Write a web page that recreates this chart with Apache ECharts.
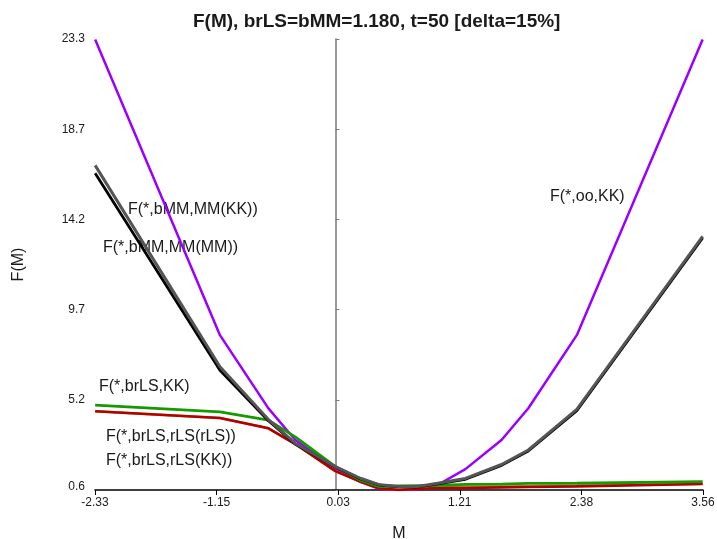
<!DOCTYPE html>
<html>
<head>
<meta charset="utf-8">
<script src="https://cdn.jsdelivr.net/npm/echarts@6/dist/echarts.min.js"></script>
<style>
html,body{margin:0;padding:0;background:#fff;}
#c{width:717px;height:539px;}
</style>
</head>
<body>
<div id="c"></div>
<script>
// ---- data ----
const M = [-2.33, -1.12, -0.65, -0.39, 0.00, 0.24, 0.43, 0.62, 0.80, 0.99, 1.26, 1.61, 1.87, 2.34, 3.56];
const F_OO_KK        = [23.27, 8.42, 4.74, 3.15, 1.72, 1.05, 0.69, 0.64, 0.66, 0.89, 1.69, 3.15, 4.75, 8.42, 23.27];
const F_BMM_MM_KK    = [16.95, 6.83, 4.18, 2.98, 1.81, 1.23, 0.90, 0.82, 0.82, 0.98, 1.22, 1.92, 2.65, 4.69, 13.38];
const F_BMM_MM_MM    = [16.56, 6.66, 4.12, 2.95, 1.80, 1.21, 0.88, 0.80, 0.80, 0.95, 1.18, 1.88, 2.60, 4.62, 13.30];
const F_BRLS_KK      = [4.90, 4.57, 4.15, 3.31, 1.81, 1.14, 0.81, 0.84, 0.86, 0.87, 0.92, 0.94, 0.97, 0.98, 1.06];
const F_BRLS_RLS_RLS = [4.60, 4.26, 3.74, 2.95, 1.59, 1.06, 0.72, 0.64, 0.69, 0.74, 0.74, 0.77, 0.79, 0.82, 0.94];
const F_BRLS_RLS_KK  = [4.60, 4.26, 3.74, 2.95, 1.59, 1.06, 0.72, 0.64, 0.70, 0.77, 0.80, 0.82, 0.83, 0.85, 0.96];

const X_TICK_LABELS = ['-2.33', '-1.15', '0.03', '1.21', '2.38', '3.56'];
const Y_TICK_LABELS = ['0.6', '5.2', '9.7', '14.2', '18.7', '23.3'];
const X_MIN = -2.3315, X_MAX = 3.5635;
const Y_MIN = 0.64, Y_MAX = 23.30;

const TITLE = 'F(M), brLS=bMM=1.180, t=50 [delta=15%]';
const NAMES = {
  ooKK: 'F(*,oo,KK)',
  mmKK: 'F(*,bMM,MM(KK))',
  mmMM: 'F(*,bMM,MM(MM))',
  brKK: 'F(*,brLS,KK)',
  rlsRls: 'F(*,brLS,rLS(rLS))',
  rlsKK: 'F(*,brLS,rLS(KK))'
};

// ---- build ----
const xTicks = X_TICK_LABELS.map((_, i) => X_MIN + i * (X_MAX - X_MIN) / 5);
const yTicks = Y_TICK_LABELS.map((_, i) => Y_MIN + i * (Y_MAX - Y_MIN) / 5);
function nearestIndex(ticks, v) {
  let best = 0, d = Infinity;
  ticks.forEach((t, i) => { const dd = Math.abs(t - v); if (dd < d) { d = dd; best = i; } });
  return best;
}
const zip = ys => M.map((x, i) => [x, ys[i]]);
function line(name, ys, color, width) {
  return {
    name, type: 'line', data: zip(ys), yAxisIndex: 0, xAxisIndex: 0,
    showSymbol: false, symbol: 'none', smooth: false,
    lineStyle: { color, width }, itemStyle: { color },
    emphasis: { disabled: true }, z: 2
  };
}
const FONT = '"Liberation Sans", Arial, Helvetica, sans-serif';

const chart = echarts.init(document.getElementById('c'), null, { renderer: 'canvas' });
chart.setOption({
  animation: false,
  backgroundColor: '#ffffff',
  textStyle: { fontFamily: FONT },
  title: {
    text: TITLE, left: 188, top: 7,
    textStyle: { fontSize: 19, fontWeight: 'bold', color: '#1a1a1a', fontFamily: FONT }
  },
  grid: { left: 95, right: 14, top: 39, bottom: 49, containLabel: false, outerBoundsMode: 'none' },
  xAxis: {
    type: 'value', min: X_MIN, max: X_MAX,
    name: 'M', nameLocation: 'middle', nameGap: 36,
    nameTextStyle: { fontSize: 16, color: '#1a1a1a', fontFamily: FONT },
    axisLine: { show: true, onZero: false, lineStyle: { color: '#000', width: 1.5 } },
    axisTick: { show: true, inside: false, length: 5, customValues: xTicks, lineStyle: { color: '#000', width: 1 } },
    axisLabel: { customValues: xTicks, margin: 7, fontSize: 12, color: '#1a1a1a',
      formatter: v => X_TICK_LABELS[nearestIndex(xTicks, v)] },
    splitLine: { show: false }
  },
  yAxis: [
    {
      type: 'value', min: Y_MIN, max: Y_MAX, position: 'left',
      name: 'F(M)', nameLocation: 'middle', nameGap: 68, nameRotate: 90,
      nameTextStyle: { fontSize: 16, color: '#1a1a1a', fontFamily: FONT },
      axisLine: { show: false, onZero: false },
      axisTick: { show: false },
      axisLabel: { customValues: yTicks, margin: 10, fontSize: 12, color: '#1a1a1a',
        formatter: v => {
          const i = nearestIndex(yTicks, v);
          return i === 0 ? '{lift|' + Y_TICK_LABELS[i] + '}' : Y_TICK_LABELS[i];
        },
        rich: { lift: { fontSize: 12, color: '#1a1a1a', padding: [0, 0, 7, 0] } } },
      splitLine: { show: false }
    },
    {
      type: 'value', min: Y_MIN, max: Y_MAX, position: 'left',
      axisLine: { show: true, onZero: true, lineStyle: { color: '#7a7a7a', width: 1.5 } },
      axisTick: { show: true, inside: true, length: 4, customValues: yTicks, lineStyle: { color: '#7a7a7a', width: 1 } },
      axisLabel: { show: false },
      splitLine: { show: false }
    }
  ],
  series: [
    line(NAMES.ooKK, F_OO_KK, '#9900ff', 2.5),
    line(NAMES.rlsKK, F_BRLS_RLS_KK, '#c8803a', 2.5),
    line(NAMES.rlsRls, F_BRLS_RLS_RLS, '#b00000', 2.6),
    line(NAMES.brKK, F_BRLS_KK, '#159a00', 2.8),
    line(NAMES.mmMM, F_BMM_MM_MM, '#000000', 2.8),
    line(NAMES.mmKK, F_BMM_MM_KK, '#555555', 3)
  ],
  graphic: [
    { type: 'text', x: 128, y: 210, style: { text: NAMES.mmKK, font: '16px ' + FONT, fill: '#1a1a1a', verticalAlign: 'middle' } },
    { type: 'text', x: 103, y: 248, style: { text: NAMES.mmMM, font: '16px ' + FONT, fill: '#1a1a1a', verticalAlign: 'middle' } },
    { type: 'text', x: 99, y: 387, style: { text: NAMES.brKK, font: '16px ' + FONT, fill: '#1a1a1a', verticalAlign: 'middle' } },
    { type: 'text', x: 106, y: 437, style: { text: NAMES.rlsRls, font: '16px ' + FONT, fill: '#1a1a1a', verticalAlign: 'middle' } },
    { type: 'text', x: 106, y: 461, style: { text: NAMES.rlsKK, font: '16px ' + FONT, fill: '#1a1a1a', verticalAlign: 'middle' } },
    { type: 'text', x: 550, y: 197, style: { text: NAMES.ooKK, font: '16px ' + FONT, fill: '#1a1a1a', verticalAlign: 'middle' } }
  ]
});
</script>
</body>
</html>
